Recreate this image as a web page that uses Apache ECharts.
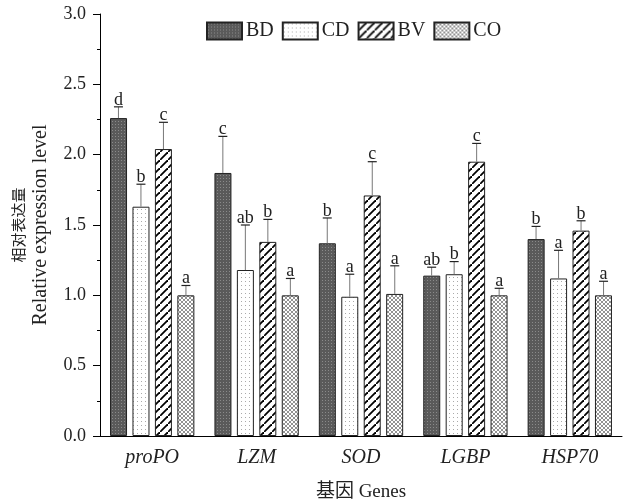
<!DOCTYPE html>
<html>
<head>
<meta charset="utf-8">
<script src="https://cdn.jsdelivr.net/npm/echarts@6/dist/echarts.min.js"></script>
<style>
  html, body { margin: 0; padding: 0; background: #fff; }
  #chart { width: 624px; height: 504px; }
</style>
</head>
<body>
<div id="chart"></div>
<script>
// genes on the x axis
const genes = ["proPO", "LZM", "SOD", "LGBP", "HSP70"];
const yTicks = [0, 0.5, 1.0, 1.5, 2.0, 2.5, 3.0];

// mean relative expression per group
const bd = [2.26, 1.87, 1.37, 1.14, 1.40];
const cd = [1.63, 1.18, 0.99, 1.15, 1.12];
const bv = [2.04, 1.38, 1.71, 1.95, 1.46];
const co = [1.00, 1.00, 1.01, 1.00, 1.00];

// standard deviations (upper error bar)
const bdErr = [0.08, 0.26, 0.18, 0.06, 0.09];
const cdErr = [0.16, 0.32, 0.16, 0.09, 0.20];
const bvErr = [0.19, 0.16, 0.24, 0.13, 0.07];
const coErr = [0.07, 0.12, 0.20, 0.05, 0.10];

// significance letters
const bdSig = ["d", "c", "b", "ab", "b"];
const cdSig = ["b", "ab", "a", "b", "a"];
const bvSig = ["c", "b", "c", "c", "b"];
const coSig = ["a", "a", "a", "a", "a"];

const serif = "'Liberation Serif', 'Noto Sans CJK SC', serif";
const barW = 17;
const step = 22.5; // bar width + gap

// small canvas tiles used as fill patterns
function tile(size, draw) {
  const c = document.createElement("canvas");
  c.width = size;
  c.height = size;
  draw(c.getContext("2d"));
  return { image: c, repeat: "repeat" };
}
const bdFill = tile(3, (g) => {
  g.fillStyle = "#5a5a5a"; g.fillRect(0, 0, 3, 3);
  g.fillStyle = "#8a8a8a"; g.fillRect(1, 1, 1, 1);
});
const cdFill = tile(4, (g) => {
  g.fillStyle = "#fff"; g.fillRect(0, 0, 4, 4);
  g.fillStyle = "#aaa"; g.fillRect(1, 1, 1, 1);
});
const bvFill = tile(8, (g) => {
  g.fillStyle = "#fff"; g.fillRect(0, 0, 8, 8);
  g.strokeStyle = "#000"; g.lineWidth = 1.8;
  g.beginPath();
  g.moveTo(-1, 9); g.lineTo(9, -1);
  g.stroke();
});
const coFill = tile(4, (g) => {
  g.fillStyle = "#fff"; g.fillRect(0, 0, 4, 4);
  g.strokeStyle = "#777"; g.lineWidth = 0.8;
  g.beginPath();
  g.moveTo(0, 4); g.lineTo(4, 0);
  g.moveTo(0, 0); g.lineTo(4, 4);
  g.stroke();
});

function barSeries(name, values, fill) {
  return {
    name: name,
    type: "bar",
    data: values,
    barWidth: barW,
    barGap: "32%",
    itemStyle: { color: fill, borderColor: "#222", borderWidth: 1 },
  };
}

// error bar + letter drawn on top of each bar
function errSeries(values, errs, sig, idx) {
  return {
    type: "custom",
    silent: true,
    z: 5,
    data: values.map((v, i) => [i, v, errs[i]]),
    renderItem: function (params, api) {
      const i = api.value(0);
      const base = api.coord([i, api.value(1)]);
      const top = api.coord([i, api.value(1) + api.value(2)]);
      const x = base[0] + (idx - 1.5) * step;
      return {
        type: "group",
        children: [
          { type: "line", shape: { x1: x, y1: base[1], x2: x, y2: top[1] }, style: { stroke: "#777", lineWidth: 1 } },
          { type: "line", shape: { x1: x - 4.5, y1: top[1], x2: x + 4.5, y2: top[1] }, style: { stroke: "#222", lineWidth: 1.2 } },
          {
            type: "text",
            style: {
              text: sig[params.dataIndex], x: x, y: top[1] + 2,
              align: "center", verticalAlign: "bottom",
              fontFamily: serif, fontSize: 18, fill: "#222",
            },
          },
        ],
      };
    },
  };
}

const chart = echarts.init(document.getElementById("chart"));
chart.setOption({
  animation: false,
  grid: { left: 100, right: 2, top: 14, bottom: 68, outerBoundsMode: "none" },
  legend: {
    data: ["BD", "CD", "BV", "CO"],
    left: 201,
    top: 16,
    icon: "rect",
    itemWidth: 35,
    itemHeight: 17,
    itemGap: 8,
    textStyle: { fontFamily: serif, fontSize: 20, color: "#222", padding: [0, 0, 0, -1] },
  },
  xAxis: [
    {
      type: "category",
      data: genes,
      axisLine: { lineStyle: { color: "#000", width: 1 } },
      axisTick: { alignWithLabel: true, length: 8, lineStyle: { color: "#000" } },
      axisLabel: { fontFamily: serif, fontStyle: "italic", fontSize: 20, color: "#222", margin: 12 },
      name: "基因 Genes",
      nameLocation: "middle",
      nameGap: 47,
      nameTextStyle: { fontFamily: serif, fontSize: 19, color: "#222" },
    },
    {
      type: "category",
      data: genes,
      position: "bottom",
      axisLine: { show: false },
      axisTick: { length: 4, lineStyle: { color: "#000" } },
      axisLabel: { show: false },
    },
  ],
  yAxis: {
    type: "value",
    min: yTicks[0],
    max: yTicks[yTicks.length - 1],
    interval: 0.5,
    axisLine: { show: true, lineStyle: { color: "#000", width: 1 } },
    axisTick: { show: true, length: 7, lineStyle: { color: "#000" } },
    minorTick: { show: true, splitNumber: 2, length: 3, lineStyle: { color: "#000" } },
    splitLine: { show: false },
    axisLabel: {
      fontFamily: serif, fontSize: 18, color: "#222", margin: 14,
      formatter: (v) => v.toFixed(1),
    },
    name: "{cn|相对表达量}\n{en|Relative expression level}",
    nameLocation: "middle",
    nameRotate: 90,
    nameGap: 47,
    nameTextStyle: {
      color: "#222",
      rich: {
        cn: { fontFamily: serif, fontSize: 15, lineHeight: 18, color: "#222" },
        en: { fontFamily: serif, fontSize: 20, lineHeight: 24, color: "#222" },
      },
    },
  },
  series: [
    barSeries("BD", bd, bdFill),
    barSeries("CD", cd, cdFill),
    barSeries("BV", bv, bvFill),
    barSeries("CO", co, coFill),
    errSeries(bd, bdErr, bdSig, 0),
    errSeries(cd, cdErr, cdSig, 1),
    errSeries(bv, bvErr, bvSig, 2),
    errSeries(co, coErr, coSig, 3),
  ],
});
</script>
</body>
</html>
